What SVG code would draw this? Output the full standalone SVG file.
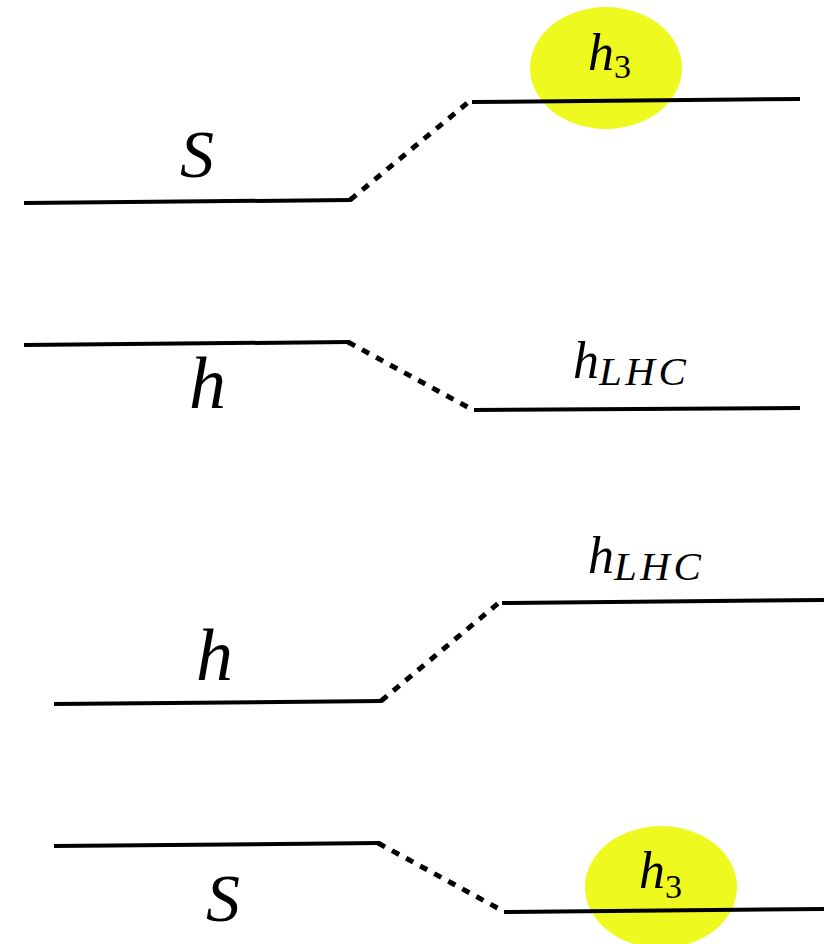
<svg xmlns="http://www.w3.org/2000/svg" width="824" height="944" viewBox="0 0 824 944">
<style>
.lvl{stroke:#000;stroke-width:4;fill:none;stroke-linecap:butt}
.dash{stroke:#000;stroke-width:5;fill:none;stroke-dasharray:8 8}
.blob{fill:#EEF91F}
.t{font-family:"Liberation Serif","DejaVu Serif",serif;font-style:italic;fill:#000}
.sub{font-size:41px;letter-spacing:3.5px}
</style>
<rect width="824" height="944" fill="#fff"/>
<g id="blobs">
<ellipse id="blob-top" class="blob" cx="606" cy="68" rx="76" ry="61"/>
<ellipse id="blob-bottom" class="blob" cx="661" cy="887" rx="76" ry="61"/>
</g>
<g id="connectors">
<line class="dash" x1="350" y1="200" x2="471" y2="100"/>
<line class="dash" x1="348" y1="342" x2="473" y2="410"/>
<line class="dash" x1="381" y1="701" x2="501" y2="601"/>
<line class="dash" x1="378" y1="843" x2="503" y2="911"/>
</g>
<g id="S1">
<line class="lvl" x1="24" y1="203" x2="351" y2="200"/>
<text class="t" x="180" y="177" font-size="68">S</text>
</g>
<g id="h3a">
<line class="lvl" x1="472" y1="102" x2="800" y2="99"/>
<text class="t" x="588" y="70" font-size="52">h<tspan font-size="34" font-style="normal" dy="8">3</tspan></text>
</g>
<g id="h1">
<line class="lvl" x1="24" y1="345" x2="349" y2="342"/>
<text class="t" x="189" y="408" font-size="74">h</text>
</g>
<g id="hLHC1">
<line class="lvl" x1="474" y1="410" x2="800" y2="408"/>
<text class="t" x="573" y="378" font-size="52">h<tspan class="sub" dy="7">LHC</tspan></text>
</g>
<g id="h2">
<line class="lvl" x1="54" y1="704" x2="382" y2="701"/>
<text class="t" x="196" y="680" font-size="74">h</text>
</g>
<g id="hLHC2">
<line class="lvl" x1="502" y1="603" x2="824" y2="600"/>
<text class="t" x="588" y="573" font-size="52">h<tspan class="sub" dy="7">LHC</tspan></text>
</g>
<g id="S2">
<line class="lvl" x1="54" y1="846" x2="379" y2="843"/>
<text class="t" x="206" y="921" font-size="68">S</text>
</g>
<g id="h3b">
<line class="lvl" x1="504" y1="912" x2="824" y2="909"/>
<text class="t" x="639" y="888" font-size="52">h<tspan font-size="34" font-style="normal" dy="10">3</tspan></text>
</g>
</svg>
